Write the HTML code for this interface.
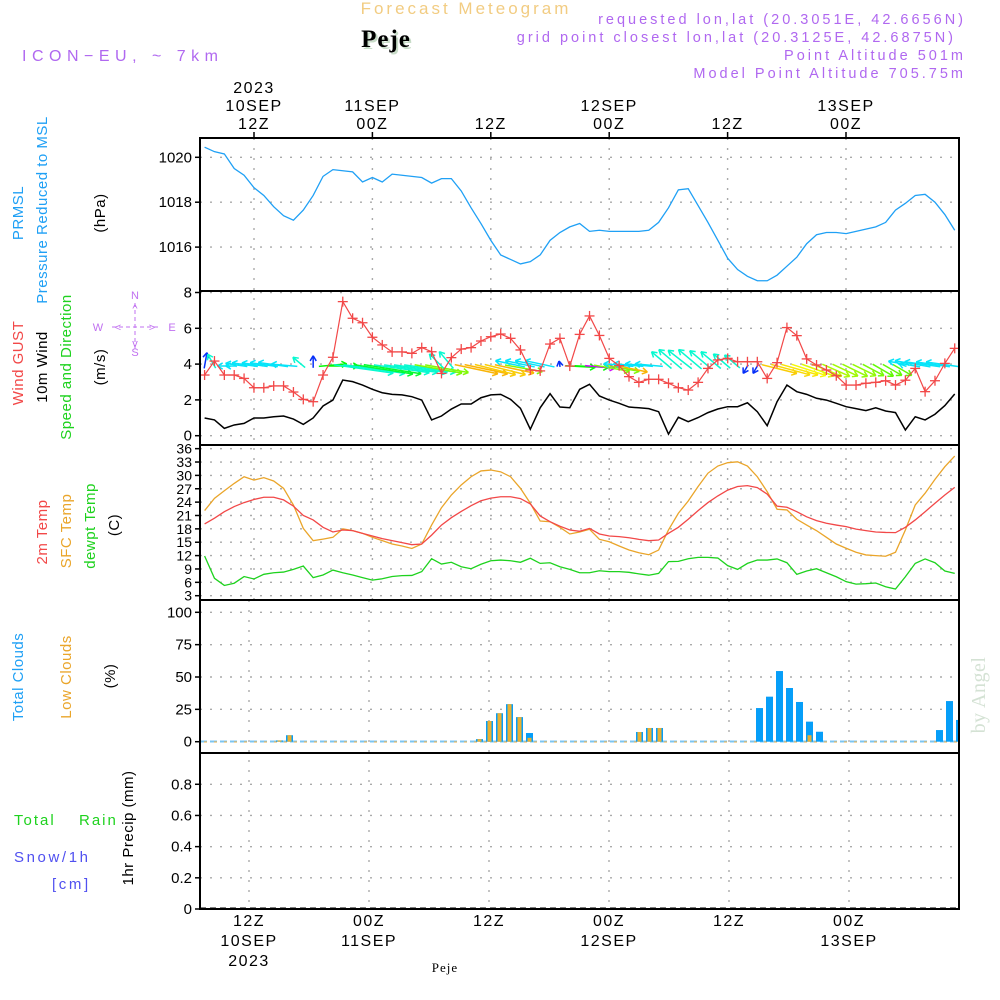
<!DOCTYPE html>
<html><head><meta charset="utf-8">
<style>
html,body{margin:0;padding:0;background:#fff;}
svg{display:block;font-family:"Liberation Sans",sans-serif;}
</style></head>
<body>
<svg id="chart" width="1000" height="1000" viewBox="0 0 1000 1000" xmlns="http://www.w3.org/2000/svg">
<rect width="1000" height="1000" fill="#fff"/>
<text x="466" y="14" text-anchor="middle" fill="#f2cc82" style="font-size:17px;letter-spacing:3px">Forecast Meteogram</text>
<text x="388" y="49" text-anchor="middle" fill="#c8dcc8" style="font-family:'Liberation Serif',serif;font-size:25px;font-weight:bold;letter-spacing:1px">Peje</text>
<text x="386" y="47" text-anchor="middle" fill="#000" style="font-family:'Liberation Serif',serif;font-size:25px;font-weight:bold;letter-spacing:1px">Peje</text>
<text x="22" y="61" fill="#b068f0" style="font-size:16px;letter-spacing:5.5px">ICON−EU, ~ 7km</text>
<g fill="#b068f0" text-anchor="end" style="font-size:14.5px;letter-spacing:3px">
<text x="966" y="24">requested lon,lat (20.3051E, 42.6656N)</text>
<text x="956" y="42">grid point closest lon,lat (20.3125E, 42.6875N)</text>
<text x="966" y="60">Point Altitude 501m</text>
<text x="966" y="78">Model Point Altitude 705.75m</text>
</g>
<g id="g"></g>
</svg>
<script>
// ---- data (hourly from 07Z 10 SEP 2023) ----
const pressure=[1020.45,1020.25,1020.15,1019.5,1019.2,1018.65,1018.3,1017.8,1017.4,1017.2,1017.65,1018.3,1019.15,1019.45,1019.4,1019.35,1018.9,1019.1,1018.9,1019.25,1019.2,1019.15,1019.1,1018.85,1019.05,1019.05,1018.5,1017.75,1017.05,1016.3,1015.65,1015.45,1015.25,1015.35,1015.65,1016.3,1016.65,1016.9,1017.05,1016.7,1016.75,1016.7,1016.7,1016.7,1016.7,1016.75,1017.1,1017.75,1018.55,1018.6,1017.85,1017.1,1016.3,1015.5,1015.0,1014.7,1014.5,1014.5,1014.75,1015.15,1015.55,1016.15,1016.55,1016.65,1016.65,1016.6,1016.7,1016.8,1016.9,1017.1,1017.65,1017.95,1018.3,1018.35,1018.0,1017.45,1016.75];
const gust=[3.39,4.17,3.39,3.39,3.2,2.68,2.68,2.78,2.78,2.44,2.03,1.9,3.39,4.38,7.49,6.56,6.31,5.5,5.07,4.68,4.68,4.6,4.92,4.69,3.48,4.36,4.84,4.92,5.29,5.53,5.68,5.44,4.79,3.67,3.62,5.12,5.44,3.89,5.66,6.69,5.6,4.32,3.91,3.3,2.98,3.15,3.15,2.93,2.68,2.55,2.98,3.76,4.23,4.32,4.13,4.13,4.13,3.2,4.08,6.04,5.59,4.29,3.95,3.67,3.35,2.83,2.83,2.93,2.98,3.07,2.83,3.1,3.76,2.46,3.07,4.04,4.88];
const wind=[0.99,0.88,0.41,0.6,0.69,0.99,0.99,1.06,1.1,0.93,0.63,0.99,1.66,1.99,3.11,3.02,2.83,2.59,2.4,2.31,2.28,2.18,1.99,0.88,1.1,1.49,1.77,1.77,2.12,2.28,2.31,2.03,1.53,0.36,1.56,2.35,1.6,1.56,2.59,2.87,2.22,1.99,1.81,1.6,1.56,1.51,1.34,0.09,1.03,0.78,1.01,1.29,1.49,1.62,1.62,1.84,1.34,0.56,1.9,2.83,2.46,2.31,2.09,1.99,1.81,1.62,1.51,1.4,1.56,1.38,1.29,0.32,1.06,0.88,1.2,1.68,2.33];
// direction the arrow points on screen (deg, 0=east, 90=south) and arrow length
const windAngle=[-80,-120,180,180,-172,-172,-172,-172,-172,-175,-140,-90,-5,0,8,8,9,9,8,8,8,8,10,10,-135,-130,12,12,14,14,12,10,-168,-168,-168,-168,-100,3,3,5,10,10,12,-175,-175,-175,-175,-140,-140,-142,-140,-140,-140,-140,-140,120,120,14,15,16,18,20,22,24,25,26,26,28,30,30,30,-160,-170,-170,-172,-172,-172];
const windLen=[16,16,8,10,22,26,26,28,30,26,16,12,28,30,60,62,60,58,56,54,54,52,48,44,20,22,44,44,42,42,40,38,30,30,30,30,6,30,34,30,36,36,34,30,30,28,28,26,30,30,30,28,26,22,20,10,10,36,40,38,36,34,32,30,28,28,26,24,24,22,22,8,32,36,36,34,34];
const totalCloud=[0,0,0,0,0,0,0,0,1,5,0,0,0,0,0,0,0,0,0,0,0,0,0,0,0,0,0,0,2,16,22,29,19,6.7,0,0,0,0,0,0,0,0,0,0,7.5,10.6,10.6,0,0,0,0,0,0,0,0,0,26,34.8,54.6,41.5,30.7,15.5,7.7,0,0,0,0,0,0,0,0,0,0,0,9,31.4,16.8];
const lowCloud=[0,0,0,0,0,0,0,0,1,5,0,0,0,0,0,0,0,0,0,0,0,0,0,0,0,0,0,0,2,16,22,29,19,3,0,0,0,0,0,0,0,0,0,0,7.5,10.6,10.6,0,0,0,0,0,0,0,0,0,0,0,0,0,0,5,0,0,0,0,0,0,0,0,0,0,0,0,0,0,0];
const precip=new Array(77).fill(0);
const t2m=[19.1,20.4,21.85,23.0,23.9,24.6,25.1,25.1,24.5,23.1,21.0,20.0,18.35,17.3,17.75,17.6,17.0,16.4,15.8,15.35,14.9,14.45,14.6,16.6,18.85,20.5,21.9,23.2,24.3,24.9,25.2,25.2,24.8,23.6,20.9,19.6,18.6,17.75,17.45,18.1,16.85,16.4,16.25,16.0,15.65,15.35,15.5,17.0,18.35,20.15,22.1,23.9,25.4,26.7,27.5,27.7,27.25,25.8,23.1,22.85,21.85,20.7,19.85,19.25,18.85,18.5,17.95,17.6,17.3,17.2,17.15,18.35,20.0,21.85,23.75,25.6,27.3];
const tsfc=[22.1,24.85,26.55,28.2,29.7,28.95,29.5,28.75,27.1,23.35,18.1,15.35,15.7,16.1,18.0,17.6,17.0,16.1,15.35,14.6,14.15,13.6,14.6,18.85,22.75,25.6,27.85,29.7,31.0,31.2,30.8,29.7,27.1,23.75,19.75,19.6,18.35,16.85,17.3,17.9,15.65,15.1,14.15,13.25,12.65,12.2,13.25,17.75,21.5,24.25,27.5,30.5,32.1,32.85,33.05,32.1,29.7,26.35,22.4,22.25,20.15,18.85,17.6,16.1,14.6,13.65,12.75,12.15,12.0,11.85,12.75,17.75,23.35,26.0,29.1,31.95,34.35];
const tdew=[11.9,6.9,5.3,5.8,7.3,6.75,7.8,8.15,8.3,8.9,9.65,7.05,7.65,8.75,8.15,7.65,7.05,6.5,6.8,7.3,7.5,7.55,8.4,11.3,10.1,10.5,9.5,9.05,10.05,10.85,11.0,10.85,10.5,11.4,10.25,10.4,9.5,8.9,8.15,8.15,8.6,8.4,8.4,8.25,7.9,7.6,8.0,10.65,10.7,11.3,11.6,11.6,11.45,9.75,8.9,10.25,11.0,11.0,11.25,10.4,7.8,8.55,9.05,8.15,7.25,6.15,5.6,5.7,5.85,5.0,4.5,7.25,10.25,11.25,10.4,8.55,8.0];
const pTicks=[1016,1018,1020];
const wTicks=[0,2,4,6,8];
const tTicks=[3,6,9,12,15,18,21,24,27,30,33,36];
const cTicks=[0,25,50,75,100];
const rTicks=[0,0.2,0.4,0.6,0.8];
const rTickLabels=["0","0.2","0.4","0.6","0.8"];
const topTimeLabels=[["2023","10SEP","12Z"],["11SEP","00Z"],["12Z"],["12SEP","00Z"],["12Z"],["13SEP","00Z"]];
const botTimeLabels=[["12Z","10SEP","2023"],["00Z","11SEP"],["12Z"],["00Z","12SEP"],["12Z"],["00Z","13SEP"]];

// ---- scales ----
const X0=200,X1=959;
const xt=i=>204.6+i*9.87;            // top 3 panels (hour index)
const xtTick=k=>254+k*118.4;
const xb=i=>249.5+(i-5)*10;          // bottom 2 panels
const xbTick=k=>249+k*120;
const yP=v=>157.3-(v-1020)*22.45;
const yW=v=>435.7-v*17.9;
const yT=v=>595.7-(v-3)*4.456;
const yC=v=>741.7-v*1.294;
const yR=v=>909-v*155.9;
const panels=[[138,291],[291,445],[445,600],[600,753],[753,909]];

const NS="http://www.w3.org/2000/svg";
const G=document.getElementById('g');
function mk(tag,attrs,parent){const e=document.createElementNS(NS,tag);for(const k in attrs)e.setAttribute(k,attrs[k]);(parent||G).appendChild(e);return e;}
function txt(s,x,y,attrs,parent){const e=mk('text',Object.assign({x:x,y:y},attrs),parent);e.textContent=s;return e;}

// grids
const grid=mk('g',{stroke:'#aaa','stroke-width':1.4,'stroke-dasharray':'2,8'});


function hgrid(y){mk('line',{x1:X0,x2:X1,y1:y,y2:y},grid);}
pTicks.forEach(v=>hgrid(yP(v)));
wTicks.forEach(v=>hgrid(yW(v)));
tTicks.forEach(v=>hgrid(yT(v)));
cTicks.forEach(v=>hgrid(yC(v)));
rTicks.slice(1).forEach(v=>hgrid(yR(v)));
for(let k=0;k<6;k++){
  mk('line',{x1:xtTick(k),x2:xtTick(k),y1:138,y2:600},grid);
  mk('line',{x1:xbTick(k),x2:xbTick(k),y1:600,y2:909},grid);
}

// y tick labels + ticks
const yl=mk('g',{'font-size':15,'text-anchor':'end',fill:'#000'});


function ytick(label,y,fs){txt(label,192,y+5,{'font-size':fs||15},yl);mk('line',{x1:195,x2:200,y1:y,y2:y,stroke:'#000','stroke-width':1.5},yl);}
pTicks.forEach(v=>ytick(String(v),yP(v)));
wTicks.forEach(v=>ytick(String(v),yW(v)));
tTicks.forEach(v=>ytick(String(v),yT(v),14));
cTicks.forEach(v=>ytick(String(v),yC(v)));
rTicks.forEach((v,k)=>ytick(rTickLabels[k],yR(v)));

// time labels
const tl=mk('g',{'font-size':16,'text-anchor':'middle',fill:'#000','letter-spacing':1.5});


topTimeLabels.forEach((arr,k)=>{const n=arr.length;arr.forEach((s,j)=>txt(s,xtTick(k),129-(n-1-j)*18,{},tl));mk('line',{x1:xtTick(k),x2:xtTick(k),y1:132,y2:138,stroke:'#000','stroke-width':1.5},tl);});
botTimeLabels.forEach((arr,k)=>{arr.forEach((s,j)=>txt(s,xbTick(k),926+j*20,{},tl));});
txt('Peje',445,972,{'font-size':13,'font-family':'Liberation Serif,serif','letter-spacing':1},tl);

// pressure
function polyline(arr,xf,yf,color,name,w){
  const p=mk('polyline',{points:arr.map((v,i)=>xf(i)+','+yf(v)).join(' '),fill:'none',stroke:color,'stroke-width':w||1.3});
  
  
  return p;
}
polyline(pressure,xt,yP,'#1fa0f5','pressure-line');

// wind arrows
const arr=mk('g',{'stroke-width':1.5,fill:'none'});


windAngle.forEach((a,i)=>{
  const L=windLen[i],r=a*Math.PI/180;
  const x0=xt(i)-Math.cos(r)*L*0.15,y0=366-Math.sin(r)*L*0.15;
  const x1=x0+Math.cos(r)*L,y1=y0+Math.sin(r)*L;
  const hue=(a>=-20&&a<=40)?(a<11?(a<4?120:330-((a-4)*40)):40+Math.min(60,(a-11)*3)):(a<-150||a>150?185:(a<-110?170:230));
  const col='hsl('+((hue+360)%360)+',95%,50%)';
  const g=mk('g',{stroke:col},arr);
  
  
  mk('line',{x1:x0,y1:y0,x2:x1,y2:y1},g);
  const h=6;
  [r+2.6,r-2.6].forEach(b=>mk('line',{x1:x1,y1:y1,x2:x1+Math.cos(b)*h,y2:y1+Math.sin(b)*h},g));
});
polyline(wind,xt,yW,'#000','mean-wind-line',1.5);
polyline(gust,xt,yW,'#f24848','gust-line',1.2);
const gm=mk('g',{stroke:'#f24848','stroke-width':1.3});


gust.forEach((v,i)=>{const x=xt(i),y=yW(v);mk('line',{x1:x-5,x2:x+5,y1:y,y2:y},gm);mk('line',{x1:x,x2:x,y1:y-5,y2:y+5},gm);});

// temps
polyline(tsfc,xt,yT,'#eaa52a','sfc-temp-line');
polyline(t2m,xt,yT,'#f24848','2m-temp-line');
polyline(tdew,xt,yT,'#1ed21e','dewpoint-line');

// clouds
const cg=mk('g',{});


mk('line',{x1:X0,x2:X1,y1:741.5,y2:741.5,stroke:'#7cc4f0','stroke-width':2,'stroke-dasharray':'7,3'},cg);
mk('line',{x1:X0+4,x2:X1,y1:742,y2:742,stroke:'#eab04a','stroke-width':1,'stroke-dasharray':'3,7'},cg);
totalCloud.forEach((v,i)=>{ if(v<=0)return; const x=xb(i);
  const b=mk('rect',{x:x-3.5,y:yC(v),width:Math.min(7,X1-(x-3.5)),height:yC(0)-yC(v),fill:'#069ef8'},cg);
  
  
  const lv=lowCloud[i]; if(lv>0){const o=mk('rect',{x:x-2,y:yC(lv),width:4,height:yC(0)-yC(lv),fill:'#eab030'},cg);
  
  }
});
// precip
const rg=mk('g',{});


mk('line',{x1:X0,x2:X1,y1:908,y2:908,stroke:'#555','stroke-width':1.5,'stroke-dasharray':'6,4'},rg);
precip.forEach((v,i)=>{ if(v<=0)return; const r=mk('rect',{x:xb(i)-3.5,y:yR(v),width:7,height:yR(0)-yR(v),fill:'#1ed21e'},rg);
  
  });

// panel frames
const fr=mk('g',{fill:'none',stroke:'#000','stroke-width':2});


panels.forEach(p=>mk('rect',{x:X0,y:p[0],width:X1-X0,height:p[1]-p[0]},fr));

// left labels (rotated)
const lab=mk('g',{'font-size':15,'text-anchor':'middle','letter-spacing':0.5});


function vlab(s,x,y,c){const e=txt(s,0,0,{fill:c,transform:'translate('+(x+5)+','+y+') rotate(-90)'},lab);return e;}
vlab('PRMSL',18,213,'#1fa0f5');
vlab('Pressure Reduced to MSL',42,210,'#1fa0f5');
vlab('(hPa)',100,213,'#000');
vlab('Wind GUST',18,363,'#f24848');
vlab('10m Wind',42,367,'#000');
vlab('Speed and Direction',66,367,'#1ed21e');
vlab('(m/s)',100,367,'#000');
vlab('2m Temp',42,532,'#f24848');
vlab('SFC Temp',66,531,'#eaa52a');
vlab('dewpt Temp',90,526,'#1ed21e');
vlab('(C)',114,525,'#000');
vlab('Total Clouds',18,677,'#1fa0f5');
vlab('Low Clouds',66,677,'#eaa52a');
vlab('(%)',110,676,'#000');
vlab('1hr Precip (mm)',128,828,'#000');
txt('Total',14,825,{fill:'#1ed21e','letter-spacing':2,'text-anchor':'start'},lab);
txt('Rain',79,825,{fill:'#1ed21e','letter-spacing':2,'text-anchor':'start'},lab);
txt('Snow/1h',14,862,{fill:'#5050f0','letter-spacing':2.6,'text-anchor':'start'},lab);
txt('[cm]',52,889,{fill:'#5050f0','letter-spacing':2.6,'text-anchor':'start'},lab);
// compass
const cp=mk('g',{fill:'#c070f0','font-size':11,'text-anchor':'middle'});


txt('N',135,299,{},cp);txt('S',135,356,{},cp);txt('W',98,331,{},cp);txt('E',172,331,{},cp);
txt('^',135,312,{},cp);txt('v',135,347,{},cp);txt('<',118,331,{},cp);txt('>',152,331,{},cp);
mk('line',{x1:112,x2:160,y1:327,y2:327,stroke:'#c070f0','stroke-dasharray':'4,3'},cp);
mk('line',{x1:135,x2:135,y1:303,y2:350,stroke:'#c070f0','stroke-dasharray':'4,3'},cp);
// watermark
txt('by Angel',0,0,{fill:'#d4e2d4','font-size':20,'font-family':'Liberation Serif,serif',transform:'translate(985,695) rotate(-90)','text-anchor':'middle'},lab);
</script>
</body></html>
